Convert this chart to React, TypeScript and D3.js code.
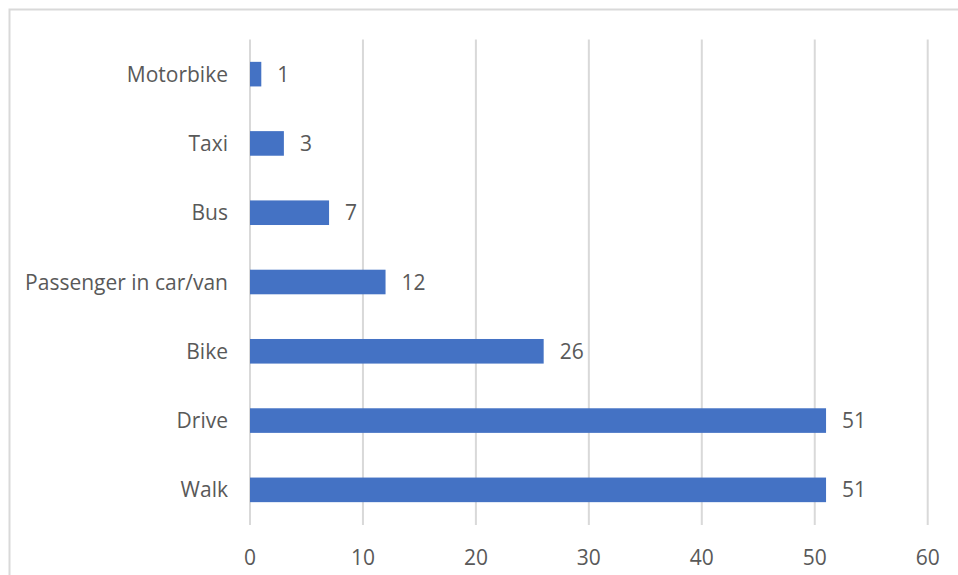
import React from "react";
import * as d3 from "d3";

const categories = ["Motorbike", "Taxi", "Bus", "Passenger in car/van", "Bike", "Drive", "Walk"];
const values = [1, 3, 7, 12, 26, 51, 51];
const xTicks = [0, 10, 20, 30, 40, 50, 60];

const W = 958;
const H = 575;
const FONT = "'Open Sans', 'Noto Sans', sans-serif";
const TEXT = "#595959";
const GRID = "#d9d9d9";
const BAR = "#4472C4";

export default function App() {
  const x = d3.scaleLinear().domain([0, 60]).range([250, 927.7]);
  const y = d3.scaleBand<string>().domain(categories).range([39.5, 524.5]).paddingInner(0.645).paddingOuter(0.3225);

  return (
    <svg width={W} height={H} style={{ position: "absolute", left: 0, top: 0, background: "#fff" }}>
      <rect x={9.5} y={9.5} width={2000} height={2000} fill="#fff" stroke={GRID} strokeWidth={2} />
      {xTicks.map((t) => (
        <line key={t} x1={x(t)} x2={x(t)} y1={39.5} y2={525} stroke={GRID} strokeWidth={2} />
      ))}
      {categories.map((c, i) => (
        <g key={c}>
          <rect x={x(0)} y={y(c)} width={x(values[i]) - x(0)} height={y.bandwidth()} fill={BAR} />
          <text x={x(values[i]) + 16} y={(y(c) as number) + y.bandwidth() / 2} dy="0.36em" fontFamily={FONT} fontSize={21} fill={TEXT}>
            {values[i]}
          </text>
          <text x={228} y={(y(c) as number) + y.bandwidth() / 2} dy="0.36em" textAnchor="end" fontFamily={FONT} fontSize={21} fill={TEXT}>
            {c}
          </text>
        </g>
      ))}
      {xTicks.map((t) => (
        <text key={"l" + t} x={x(t)} y={557} dy="0.36em" textAnchor="middle" fontFamily={FONT} fontSize={21} fill={TEXT}>
          {t}
        </text>
      ))}
    </svg>
  );
}
